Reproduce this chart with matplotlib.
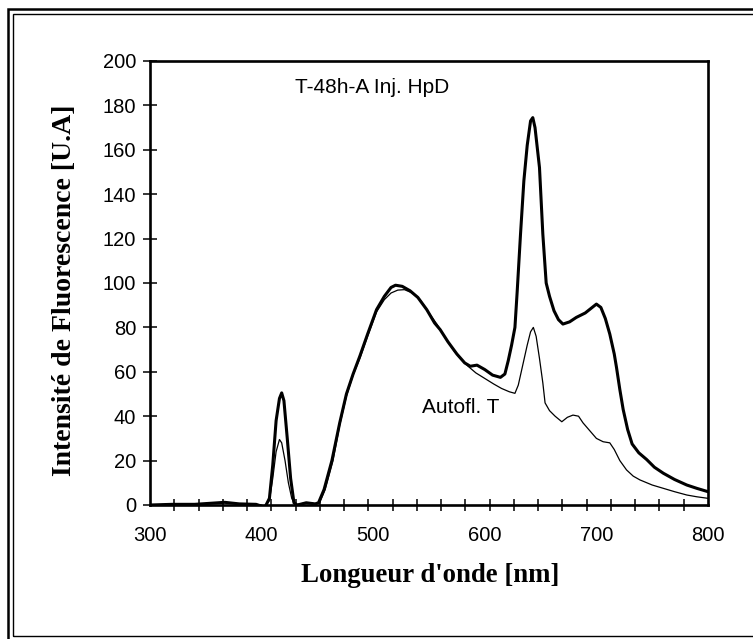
import numpy as np
import matplotlib.pyplot as plt
from matplotlib.patches import Rectangle

# Fluorescence spectra
hpd_x = [300, 320, 340, 355, 367, 380, 395, 403, 407, 410, 413, 416, 418, 420, 423, 426, 429, 432,
         440, 448, 451, 456, 463, 470, 476, 482, 488, 495, 503, 510, 516, 520, 526, 533, 540, 548,
         555, 560, 567, 575, 582, 587, 593, 600, 607, 614, 618, 621, 624, 627, 629, 632, 635, 638,
         641, 643, 645, 649, 652, 655, 658, 662, 666, 670, 676, 682, 690, 695, 700, 704, 708, 712,
         716, 718, 721, 724, 728, 732, 738, 745, 752, 760, 770, 781, 790, 800]
hpd_y = [0, 0.3, 0.3, 0.8, 1.2, 0.5, 0.3, -1, 3, 18, 38, 48, 50.5, 47, 30, 12, 1, 0,
         1, 0.5, 1, 7, 20, 37, 50, 59, 67, 77, 88, 94, 98, 99, 98.5, 96.5, 93.5, 88,
         82, 79, 73.5, 68, 64, 62.5, 63, 61, 58.5, 57.5, 59, 65, 72, 80, 96, 122, 146, 162,
         173, 174.5, 170, 152, 122, 100, 94, 87.5, 83.5, 81.5, 82.5, 84.5, 86.5, 88.5, 90.5, 89, 84, 77,
         68, 62, 52, 43, 34, 27.5, 23.5, 20.5, 17, 14.3, 11.5, 9, 7.5, 6]

auto_x = [300, 320, 340, 355, 367, 380, 395, 403, 407, 410, 413, 416, 418, 421, 424, 427, 430,
          440, 448, 452, 457, 464, 470, 476, 482, 488, 495, 503, 510, 516, 522, 528, 535, 542,
          550, 557, 565, 573, 580, 585, 592, 600, 608, 615, 622, 627, 630, 634, 638, 641, 643.5,
          646, 649, 652, 654, 658, 663, 669, 674, 679, 684, 688, 694, 700, 706, 712, 716, 721,
          727, 733, 739, 750, 760, 770, 781, 790, 800]
auto_y = [0, 0.3, 0.3, 0.8, 1.2, 0.5, 0.3, -0.5, 2, 12, 24, 29.5, 28, 20, 10, 3, 0,
          1, 0.5, 1, 7, 20, 36, 49, 58.5, 66, 76, 87, 92.5, 95.5, 96.8, 97, 95.5, 92.5,
          86.5, 81.5, 75, 69, 65, 62.5, 59.5, 57, 54.5, 52.5, 51, 50.3, 54, 63, 72, 78, 80,
          76, 66, 55, 46, 42.5, 40, 37.5, 39.5, 40.5, 40, 37, 33.5, 30, 28.5, 28, 25, 20,
          15.8, 13, 11.3, 9, 7.5, 6, 4.5, 3.7, 3]

x_labels = [300, 400, 500, 600, 700, 800]
y_labels = [0, 20, 40, 60, 80, 100, 120, 140, 160, 180, 200]

W, H = 753, 639
fig = plt.figure(figsize=(W / 100, H / 100), dpi=100)
ax = fig.add_axes([150 / W, 1 - 505 / H, 558 / W, 444 / H])

ax.plot(hpd_x, hpd_y, color='black', lw=2.2, solid_joinstyle='round')
ax.plot(auto_x, auto_y, color='black', lw=0.9, solid_joinstyle='round')

ax.set_xlim(300, 800)
ax.set_ylim(0, 200)

sans = 'Liberation Sans'
serif = 'Liberation Serif'

ax.set_xticks(x_labels)
ax.set_xticklabels([str(v) for v in x_labels], fontfamily=sans, fontsize=14.5)
ax.set_xticks(np.linspace(300, 800, 24), minor=True)
ax.tick_params(axis='x', which='major', length=0, pad=15)
ax.tick_params(axis='x', which='minor', direction='inout', length=8.5, width=1.1)

ax.set_yticks(y_labels)
ax.set_yticklabels([str(v) for v in y_labels], fontfamily=sans, fontsize=14.5)
ax.tick_params(axis='y', which='major', direction='inout', length=10, width=1.1, pad=5)

for s in ax.spines.values():
    s.set_linewidth(1.9)

ax.set_xlabel("Longueur d'onde [nm]", fontfamily=serif, fontweight='bold', fontsize=19.3,
              va='center')
ax.xaxis.set_label_coords((430 - 150) / 558, (505 - 575) / 444)
ax.set_ylabel("Intensité de Fluorescence [U.A]", fontfamily=serif, fontweight='bold',
              fontsize=20, va='center')
ax.yaxis.set_label_coords((65 - 150) / 558, (505 - 290) / 444)

ax.text(430, 188, "T-48h-A Inj. HpD", fontfamily=sans, fontsize=15, va='center', ha='left')
ax.text(544, 44, "Autofl. T", fontfamily=sans, fontsize=15, va='center', ha='left')

# double frame round the figure
fig.add_artist(Rectangle((8 / W, -10 / H), 800 / W, (H - 9 + 10) / H,
                         transform=fig.transFigure, fill=False, lw=1.8,
                         edgecolor='black', clip_on=False))
fig.add_artist(Rectangle((12.5 / W, (H - 636) / H), 800 / W, (636 - 14) / H,
                         transform=fig.transFigure, fill=False, lw=1.0,
                         edgecolor='black', clip_on=False))

fig.savefig('out.png', dpi=100)
